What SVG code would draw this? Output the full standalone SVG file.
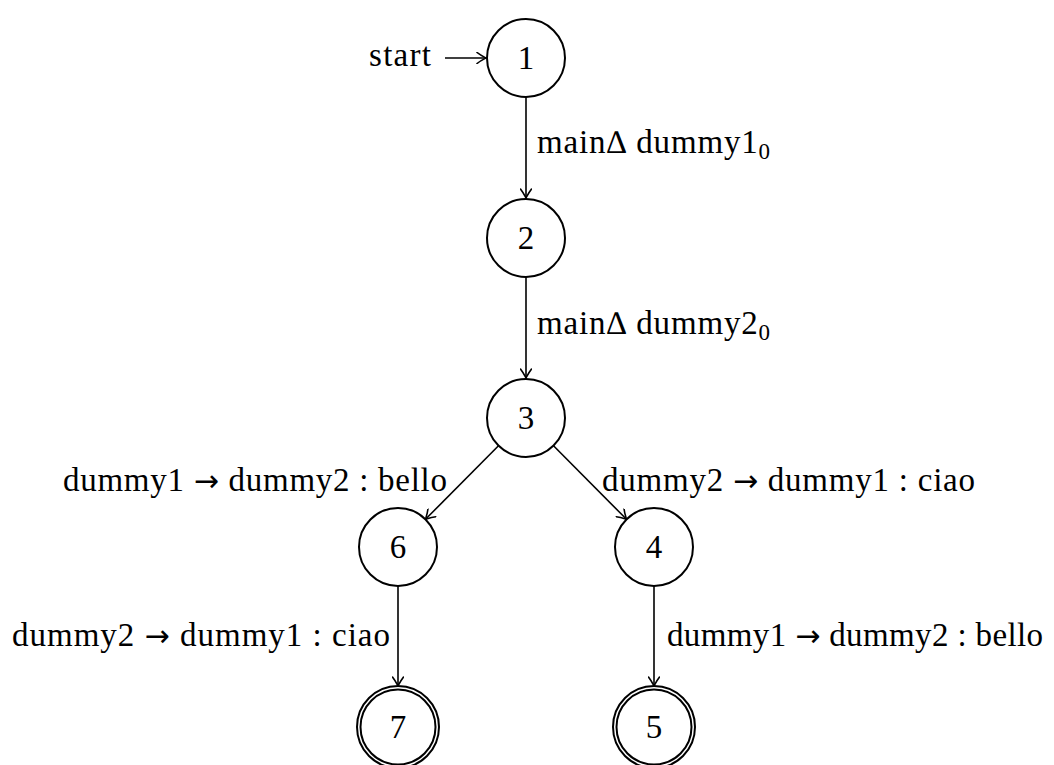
<svg xmlns="http://www.w3.org/2000/svg" width="1054" height="765" viewBox="0 0 1054 765">
<defs>
<style>
.st{fill:#fff;stroke:#000;stroke-width:2}
.e{fill:none;stroke:#000;stroke-width:1.6;marker-end:url(#ah)}
text{font-family:"Liberation Serif","DejaVu Serif",serif;font-size:33px;fill:#000}
.n{text-anchor:middle;dominant-baseline:central}
.sub{font-size:23px}
.ar{font-family:"DejaVu Sans",sans-serif;font-size:30px}
</style>
<marker id="ah" viewBox="-10 -6 12 12" markerWidth="12" markerHeight="12" refX="0" refY="0" orient="auto" markerUnits="userSpaceOnUse">
<path d="M-9,-5.5 C-5.5,-2.7 -1.5,-0.8 0,0 C-1.5,0.8 -5.5,2.7 -9,5.5" fill="none" stroke="#000" stroke-width="1.6" stroke-linecap="round"/>
</marker>
</defs>
<rect width="1054" height="765" fill="#fff"/>
<g id="connectors">
<path class="e" d="M445,58 H486"/>
<path class="e" d="M526,97 V198"/>
<path class="e" d="M526,277 V378"/>
<path class="e" d="M498.5,445.7 L425.5,519.3"/>
<path class="e" d="M553.5,445.7 L626.5,519.3"/>
<path class="e" d="M398,586 V686"/>
<path class="e" d="M654,586 V686"/>
</g>
<g id="labels">
<text x="369" y="66" textLength="62" lengthAdjust="spacing">start</text>
<text x="537" y="153" textLength="233" lengthAdjust="spacing">main∆ dummy1<tspan class="sub" dy="6">0</tspan></text>
<text x="537" y="334" textLength="233" lengthAdjust="spacing">main∆ dummy2<tspan class="sub" dy="6">0</tspan></text>
<text x="63" y="491" textLength="384" lengthAdjust="spacing">dummy1 <tspan class="ar">→</tspan> dummy2 : bello</text>
<text x="602" y="491" textLength="373" lengthAdjust="spacing">dummy2 <tspan class="ar">→</tspan> dummy1 : ciao</text>
<text x="12" y="646" textLength="378" lengthAdjust="spacing">dummy2 <tspan class="ar">→</tspan> dummy1 : ciao</text>
<text x="667" y="646" textLength="376" lengthAdjust="spacing">dummy1 <tspan class="ar">→</tspan> dummy2 : bello</text>
</g>
<g id="node1"><circle class="st" cx="526" cy="58" r="39"/><text class="n" x="526" y="58">1</text></g>
<g id="node2"><circle class="st" cx="526" cy="238" r="39"/><text class="n" x="526" y="238">2</text></g>
<g id="node3"><circle class="st" cx="526" cy="418" r="39"/><text class="n" x="526" y="418">3</text></g>
<g id="node6"><circle class="st" cx="398" cy="547" r="39"/><text class="n" x="398" y="547">6</text></g>
<g id="node4"><circle class="st" cx="654" cy="547" r="39"/><text class="n" x="654" y="547">4</text></g>
<g id="node7"><circle class="st" cx="398" cy="727" r="41"/><circle class="st" cx="398" cy="727" r="37.5"/><text class="n" x="398" y="727">7</text></g>
<g id="node5"><circle class="st" cx="654" cy="727" r="41"/><circle class="st" cx="654" cy="727" r="37.5"/><text class="n" x="654" y="727">5</text></g>
</svg>
